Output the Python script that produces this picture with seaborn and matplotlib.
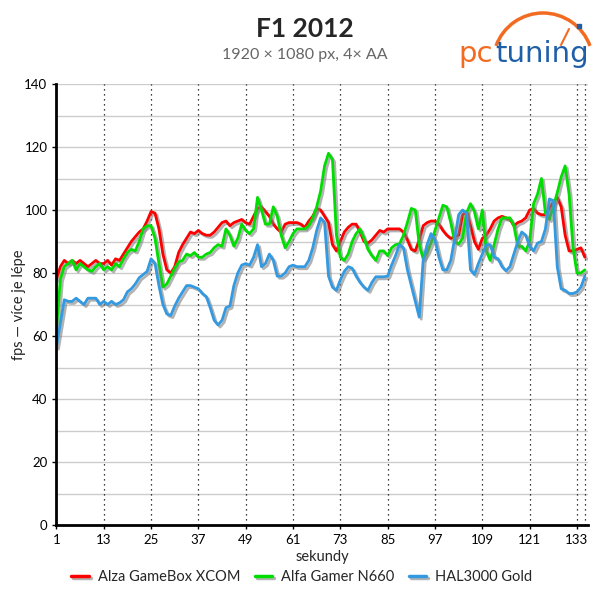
import numpy as np
import pandas as pd
import matplotlib
matplotlib.use('Agg')
import matplotlib.pyplot as plt
import matplotlib.patheffects as pe
from matplotlib.patches import Arc
import seaborn as sns

# frame rate per second
seconds = list(range(1, 136))

alza = [78, 82, 84, 83, 84, 83, 84, 83, 82, 83,
        84, 83, 83, 84, 82.5, 84.5, 84, 86, 88, 90,
        91.5, 93, 94, 96.5, 99.5, 99, 94, 86, 81, 80,
        82, 86.5, 89, 91, 93, 92.5, 93.5, 92.5, 92, 92,
        93, 94.5, 96, 96.5, 95, 96, 96.5, 97, 96, 95.5,
        98, 100.5, 101, 99.5, 98, 95.5, 94, 93, 95.5, 96,
        96, 96, 95.5, 94.5, 96.5, 98, 100.5, 100, 98, 96,
        89, 87, 90, 93, 94.5, 95.5, 95.5, 93, 90, 89.5,
        90.5, 92, 93.5, 93, 94, 94, 94, 94, 93, 90.5,
        87.5, 87, 90.5, 95, 96, 96.5, 96.5, 95.5, 93.5, 92,
        91, 91.5, 92, 98.5, 99.5, 95, 90, 87.5, 91, 92,
        94, 96.5, 97.5, 98, 97.5, 97, 95, 96, 96.5, 97.5,
        100, 100.5, 99, 98.5, 98.5, 100.5, 102.5, 104, 101, 92,
        87, 87, 87.5, 88, 85]

alfa = [62, 78, 82, 83, 84, 81, 83, 82, 81, 80.5,
        82, 83, 81, 82, 81, 83, 82, 84.5, 86.5, 87.5,
        87, 90, 94, 95, 95, 91, 83, 75.5, 76.5, 79,
        81.5, 83.5, 84, 86, 85.5, 86.5, 85, 85, 86, 86.5,
        88, 89, 88.5, 94, 92, 88.5, 91, 95.5, 93.5, 92.5,
        94, 104, 100, 95.5, 95.5, 101, 98, 92, 88, 90,
        92.5, 94, 94, 94, 95, 97.5, 101, 106, 114, 118,
        116, 92, 85, 84, 86, 90, 92.5, 94, 91, 87.5,
        85.5, 84, 87, 87, 85.5, 88, 89, 89.2, 92, 96,
        100.5, 100, 89, 84.5, 86.5, 89.5, 93.5, 97.5, 101.5, 101,
        96, 90, 89.2, 91, 99, 102, 99.5, 94, 100, 87,
        84, 89, 94, 97.5, 97.5, 97.5, 95, 88.5, 88.5, 87,
        90, 102, 105, 110, 99, 97, 101, 105.5, 110.5, 114,
        105, 88, 80, 80, 81]

hal = [56.5, 64, 71.5, 71, 71, 72, 71, 70, 72, 72,
       72, 70, 71, 70, 71, 70, 70.5, 71.5, 74, 75,
       76.5, 78.5, 79.5, 80.5, 84.5, 83, 76, 70, 67, 66.5,
       69.5, 72, 74, 76, 76, 75.5, 75, 73.5, 72.5, 69,
       65, 63.5, 65, 69, 69.5, 76, 80, 82.5, 83, 82.5,
       85, 89, 82, 83, 86, 84, 79, 79, 80, 82,
       82.5, 82, 82, 82, 84, 88, 93.5, 97.5, 96, 79,
       75.5, 74.5, 77.8, 80.5, 82, 81.5, 79, 77, 75.5, 74.5,
       77, 78.8, 78.8, 78.8, 79, 82.5, 85.5, 89, 88, 81,
       76, 71, 66, 84, 89, 92.5, 90.5, 85, 81, 81,
       84, 91, 98.5, 100, 99, 81, 79.5, 83, 86, 89,
       89, 85, 84.5, 82, 80.7, 82, 86, 90, 93, 92,
       88.5, 87, 89.5, 90, 94, 103.5, 103, 82, 75, 74.5,
       73.5, 73.5, 74, 75.5, 79]

series_names = ['Alza GameBox XCOM', 'Alfa Gamer N660', 'HAL3000 Gold']
series_colors = ['#ff0000', '#00dd00', '#3399e0']
x_ticks = list(range(1, 134, 12))

df = pd.DataFrame({
    'sekundy': seconds * 3,
    'fps': alza + alfa + hal,
    'series': np.repeat(series_names, len(seconds)),
})

sns.set_style('white')
plt.rcParams['font.family'] = ['Lato', 'DejaVu Sans']

fig = plt.figure(figsize=(6, 6), dpi=100)
ax = fig.add_axes([0.094, 0.125, 0.886, 0.735])

sns.lineplot(data=df, x='sekundy', y='fps', hue='series',
             palette=dict(zip(series_names, series_colors)),
             linewidth=2, ax=ax)

shadow = [pe.SimpleLineShadow(offset=(1.5, -1.5), shadow_color='gray', alpha=0.6),
          pe.Normal()]
for line in ax.lines:
    line.set_path_effects(shadow)

# horizontal grid every 10 fps, dotted verticals at the ticks
ax.set_xlim(1, 135.8)
ax.set_ylim(0, 140)
ax.set_xticks(x_ticks)
ax.set_yticks(range(0, 141, 20))
ax.grid(False)
for v in range(10, 141, 10):
    ax.axhline(v, color='#cccccc', linewidth=1, zorder=0)
for v in x_ticks[1:] + [135]:
    ax.axvline(v, linestyle=(0, (1, 3)), color='black', linewidth=0.9, zorder=0.5)
for side in ['top', 'right']:
    ax.spines[side].set_visible(False)
for side in ['left', 'bottom']:
    ax.spines[side].set_linewidth(2)
    ax.spines[side].set_color('black')
ax.tick_params(axis='both', which='major', direction='out', length=3, width=1,
               labelsize=9.5, colors='black', left=True, bottom=True)
ax.set_xlabel('sekundy', fontsize=10.5, labelpad=3)
ax.set_ylabel('fps — více je lépe', fontsize=10.5)
ax.yaxis.set_label_coords(-0.058, 0.5)

# legend at the bottom
sns.move_legend(ax, 'center', bbox_to_anchor=(0.503, 0.038),
                bbox_transform=fig.transFigure, ncol=3, frameon=False,
                title=None, fontsize=10.5, handlelength=1.2, handletextpad=0.6,
                columnspacing=1.0)
for h in ax.get_legend().get_lines():
    h.set_linewidth(2.5)
    h.set_path_effects(shadow)

# titles
fig.text(0.508, 0.952, 'F1 2012', ha='center', va='center',
         fontsize=19, fontweight='bold')
fig.text(0.508, 0.908, '1920 × 1080 px, 4× AA', ha='center', va='center',
         fontsize=11.5, color='#666666')

# logo (pixel coordinates)
lax = fig.add_axes([0.75, 0.88, 0.25, 0.12])
lax.set_xlim(450, 600)
lax.set_ylim(72, 0)
lax.axis('off')
lax.text(458, 62, 'pc', color='#f26b21', fontsize=21, family='DejaVu Sans',
         va='baseline')
lax.text(495, 62, 'tuning', color='#1f5fa8', fontsize=21, family='DejaVu Sans',
         va='baseline')
lax.add_patch(Arc((543, 63), 100, 100, theta1=200, theta2=340,
                  color='#f26b21', linewidth=2.5))
lax.plot([561, 569], [45, 29], color='#f26b21', linewidth=1.5)
lax.plot([579], [26], marker='s', markersize=3, color='#1f5fa8')

fig.savefig('out.png', dpi=100)
